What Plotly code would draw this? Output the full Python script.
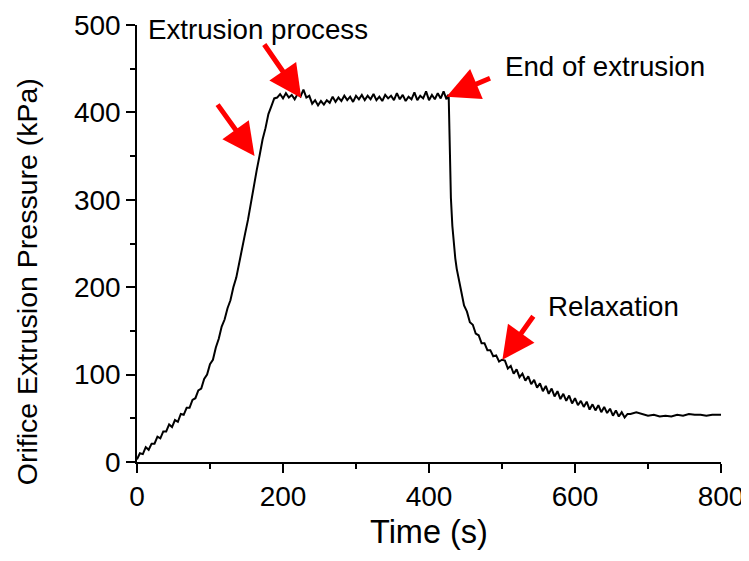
import plotly.graph_objects as go

# Orifice extrusion pressure trace
time_s = [
    0, 4, 8, 12, 16, 20, 24, 28, 32, 36, 40, 44, 48, 52, 56, 60, 64, 68, 72, 76,
    80, 84, 88, 92, 96, 100, 104, 108, 112, 116, 120, 124, 128, 132, 136, 140,
    144, 148, 152, 156, 160, 164, 168, 172, 176, 180, 184, 188, 192,
    196, 200, 204, 208, 212, 216, 220, 224, 228, 232, 236, 240, 244, 248, 252,
    256, 260, 264, 268, 272, 276, 280, 284, 288, 292, 296, 300, 304, 308, 312,
    316, 320, 324, 328, 332, 336, 340, 344, 348, 352, 356, 360, 364, 368, 372,
    376, 380, 384, 388, 392, 396, 400, 404, 408, 412, 416, 420, 424, 426, 427,
    428, 429, 430, 432, 434, 436, 438, 440, 444, 448, 452, 456, 460, 464, 468,
    472, 476, 480, 484, 488, 492, 496, 500,
    504, 508, 512, 516, 520, 524, 528, 532, 536, 540, 544, 548, 552, 556, 560,
    564, 568, 572, 576, 580, 584, 588, 592, 596, 600, 604, 608, 612, 616, 620,
    624, 628, 632, 636, 640, 644, 648, 652, 656, 660, 664, 668, 672,
    676, 684, 692, 700, 708, 716, 724, 732, 740, 748, 756, 764, 772, 780, 788,
    796, 800,
]
pressure_kpa = [
    3, 10, 9, 17, 14, 21, 21, 29, 27, 35, 35, 43, 40, 48, 46, 55, 54, 62, 62, 71,
    73, 82, 84, 95, 100, 112, 117, 131, 141, 155, 163, 176, 185, 200, 211, 229,
    243, 261, 277, 297, 314, 334, 351, 369, 382, 398, 407, 416, 417,
    421, 416, 422, 417, 420, 415, 421, 418, 426, 417, 419, 410, 414, 408, 413,
    409, 414, 411, 418, 412, 417, 413, 419, 414, 418, 412, 419, 415, 420, 414,
    419, 415, 421, 414, 418, 413, 420, 416, 419, 414, 422, 415, 420, 413, 418,
    415, 423, 414, 419, 416, 424, 414, 420, 415, 422, 416, 424, 415, 420, 418,
    380, 338, 302, 270, 249, 233, 221, 211, 196, 179, 172, 160, 157, 147, 145,
    136, 136, 128, 128, 121, 122, 115, 117,
    116, 107, 110, 101, 106, 97, 101, 93, 98, 89, 94, 85, 90, 81, 87,
    78, 84, 75, 81, 72, 78, 70, 76, 67, 73, 65, 70, 63, 69, 60,
    66, 59, 65, 57, 63, 56, 61, 53, 59, 52, 57, 51, 55,
    55, 57, 55, 53, 54, 52, 53, 52, 54, 53, 55, 54, 54, 53, 54,
    54, 54,
]

# arrow tips (data) and tail offsets (px), label anchors
arrow_x = [161, 225, 424, 500.5]
arrow_y = [350, 416.5, 418, 117]
arrow_ax = [-38, -38, 45, 32]
arrow_ay = [-53, -55, -19, -45]

label_text = ["Extrusion process", "End of extrusion", "Relaxation"]
label_x = [12.5, 501, 560]
label_y = [495, 453, 178]

FONT = "Liberation Sans, Arial, sans-serif"

fig = go.Figure()

fig.add_trace(go.Scatter(
    x=time_s,
    y=pressure_kpa,
    mode="lines",
    line=dict(color="black", width=2),
    showlegend=False,
    hoverinfo="skip",
))

annotations = []
for x, y, ax, ay in zip(arrow_x, arrow_y, arrow_ax, arrow_ay):
    annotations.append(dict(
        x=x, y=y, ax=ax, ay=ay, xref="x", yref="y",
        showarrow=True, arrowhead=2, arrowsize=1.3, arrowwidth=5,
        arrowcolor="#ff0000", text="",
    ))
for t, x, y in zip(label_text, label_x, label_y):
    annotations.append(dict(
        x=x, y=y, xref="x", yref="y", text=t, showarrow=False,
        xanchor="left", yanchor="middle",
        font=dict(family=FONT, size=27.7, color="black"),
    ))

# axis titles as annotations so they can sit where the reference has them
annotations.append(dict(
    x=-0.188, y=0.412, xref="paper", yref="paper",
    text="Orifice Extrusion Pressure (kPa)", textangle=-90, showarrow=False,
    xanchor="center", yanchor="middle",
    font=dict(family=FONT, size=28.5, color="black"),
))
annotations.append(dict(
    x=0.5, y=-0.16, xref="paper", yref="paper",
    text="Time (s)", showarrow=False, xanchor="center", yanchor="middle",
    font=dict(family=FONT, size=32.5, color="black"),
))

axis_common = dict(
    showgrid=False, zeroline=False, showline=True, linecolor="black",
    linewidth=1.5, ticks="outside", ticklen=9, tickwidth=1.5,
    tickcolor="black", tickfont=dict(family=FONT, size=28, color="black"),
    mirror=False,
)

# the page body adds an 8 px offset, so the figure is 8 px smaller each way
fig.update_layout(
    width=741, height=553,
    margin=dict(l=129, r=28, t=17, b=99, autoexpand=False),
    paper_bgcolor="white", plot_bgcolor="white",
    font=dict(family=FONT, color="black"),
    xaxis=dict(
        range=[0, 800], tickvals=[0, 200, 400, 600, 800],
        minor=dict(tickvals=[100, 300, 500, 700], ticklen=5, tickwidth=1.5,
                   tickcolor="black", ticks="outside"),
        **axis_common,
    ),
    yaxis=dict(
        range=[0, 500], tickvals=[0, 100, 200, 300, 400, 500],
        minor=dict(tickvals=[50, 150, 250, 350, 450], ticklen=5, tickwidth=1.5,
                   tickcolor="black", ticks="outside"),
        **axis_common,
    ),
    annotations=annotations,
)

fig.write_html("out.html")
